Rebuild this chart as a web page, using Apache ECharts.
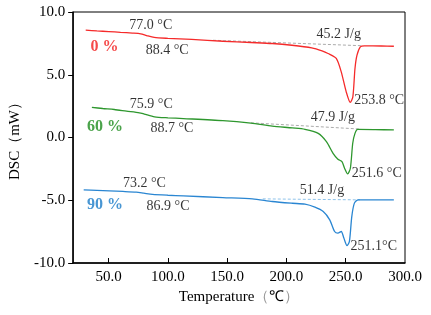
<!DOCTYPE html>
<html><head><meta charset="utf-8">
<script src="https://cdn.jsdelivr.net/npm/echarts@6/dist/echarts.min.js"></script>
<style>html,body{margin:0;padding:0;background:#fff}#c{width:431px;height:315px}</style>
</head><body><div id="c"></div>
<script>
var xTicks = [50, 100, 150, 200, 250, 300];
var yTicks = [-10, -5, 0, 5, 10];

var red0 = [[30.6,8.55],[40,8.49],[50,8.44],[60,8.38],[70,8.32],[77,8.26],[82,8.12],[88.4,7.97],[100,7.90],[120,7.82],[146.4,7.67],[170,7.57],[188,7.49],[204.6,7.35],[221.3,7.14],[230,6.90],[235.1,6.69],[242,6.30],[246.2,5.23],[250.4,3.64],[253.8,2.80],[256,3.24],[257.8,5.50],[259.5,6.56],[262.3,7.22],[265.6,7.30],[280,7.29],[290.6,7.27]];
var green60 = [[35.8,2.40],[45,2.31],[54.7,2.23],[65,2.10],[75.9,1.97],[80,1.87],[88.7,1.65],[100,1.57],[113,1.51],[146.3,1.34],[170,1.14],[188,0.91],[205,0.76],[215.6,0.65],[226.8,0.33],[233.7,-0.33],[239.3,-1.26],[243.4,-1.73],[246.8,-1.92],[249,-2.45],[251.6,-2.90],[253.9,-2.45],[255.9,-0.46],[257.8,0.33],[260.1,0.65],[275,0.63],[290.6,0.60]];
var blue90 = [[28.9,-4.17],[40,-4.21],[50.6,-4.25],[62,-4.30],[73.2,-4.36],[79.7,-4.44],[86.9,-4.53],[100,-4.60],[113,-4.65],[146.3,-4.79],[171.3,-4.89],[188,-5.10],[205,-5.24],[215.6,-5.31],[224,-5.55],[231,-5.90],[236.5,-6.56],[240.6,-7.49],[243.4,-7.62],[246.2,-7.49],[248.4,-8.01],[251.1,-8.62],[253.1,-8.28],[255.1,-6.30],[257.3,-5.23],[260.6,-4.97],[275,-4.97],[290.6,-4.97]];

var base0 = [[138,7.75],[264.5,7.31]];
var base60 = [[170,1.17],[261,0.68]];
var base90 = [[180,-4.89],[262,-4.97]];

var annotText = ['77.0 °C','88.4 °C','0 %','75.9 °C','88.7 °C','60 %','73.2 °C','86.9 °C','90 %','45.2 J/g','253.8 °C','47.9 J/g','251.6 °C','51.4 J/g','251.1°C'];
var annotX = [85.5,99.3,46.4,85.9,103.4,46.8,80.1,100.1,46.8,244.1,278.2,239.1,276.2,230.0,273.7];
var annotY = [8.94,6.96,7.19,2.66,0.76,0.83,-3.62,-5.52,-5.37,8.23,2.98,1.63,-2.82,-4.17,-8.70];
var annotColor = ['#000','#000','#f21d1d','#000','#000','#1e8c1e','#000','#000','#1a7cc8','#000','#000','#000','#000','#000','#000'];
var annotBold = [false,false,true,false,false,true,false,false,true,false,false,false,false,false,false];

var FONT = "'Liberation Serif','Times New Roman',serif";

var annotData = annotText.map(function(t,i){
  return {value:[annotX[i],annotY[i]], label:{formatter:t, color:annotColor[i],
    fontWeight: annotBold[i]?'bold':'normal', fontSize: annotBold[i]?16:14}};
});

function line(data,color,w){
  return {type:'line',data:data,showSymbol:false,symbol:'none',smooth:0.25,
    lineStyle:{color:color,width:w||1.3},z:3,animation:false};
}
function dash(data,color){
  return {type:'line',data:data,showSymbol:false,symbol:'none',
    lineStyle:{color:color,width:1,type:[3,2]},z:2,animation:false};
}

var chart = echarts.init(document.getElementById('c'));
chart.setOption({
  animation:false,
  grid:{left:68,right:26,top:12,bottom:52,show:true,borderColor:'#000',borderWidth:1},
  xAxis:{type:'value',min:20,max:300,
    name:'Temperature{p|（}℃{p|）}',
    nameLocation:'middle',nameGap:24,
    nameTextStyle:{fontFamily:FONT,fontSize:15,color:'#000',
      rich:{p:{fontSize:15,color:'#999',fontFamily:FONT}}},
    axisLine:{show:true,onZero:false,lineStyle:{color:'#000',width:1.5}},
    axisTick:{show:true,inside:true,length:5,lineStyle:{color:'#000'},customValues:xTicks.slice(0,5)},
    axisLabel:{customValues:xTicks,fontFamily:FONT,fontSize:15,color:'#000',margin:7,
      formatter:function(v){return v.toFixed(1);}},
    splitLine:{show:false}},
  yAxis:{type:'value',min:-10,max:10,
    name:'DSC（mW）',nameLocation:'middle',nameGap:44,nameRotate:90,
    nameTextStyle:{fontFamily:FONT,fontSize:15,color:'#000'},
    axisLine:{show:true,onZero:false,lineStyle:{color:'#000',width:1.5}},
    axisTick:{show:true,inside:false,length:5,lineStyle:{color:'#000'},customValues:yTicks},
    axisLabel:{customValues:yTicks,fontFamily:FONT,fontSize:15,color:'#000',margin:8,
      formatter:function(v){return v.toFixed(1);}},
    splitLine:{show:false}},
  series:[
    dash(base0,'#aaaaaa'),
    dash(base60,'#aaaaaa'),
    dash(base90,'#8fc3ea'),
    line(red0,'#f52a2a'),
    line(green60,'#2e972e'),
    line(blue90,'#2a86d2'),
    {type:'scatter',data:annotData,symbolSize:0,z:5,animation:false,silent:true,
      label:{show:true,position:'inside',align:'center',verticalAlign:'middle',fontFamily:FONT}}
  ]
});
</script></body></html>
